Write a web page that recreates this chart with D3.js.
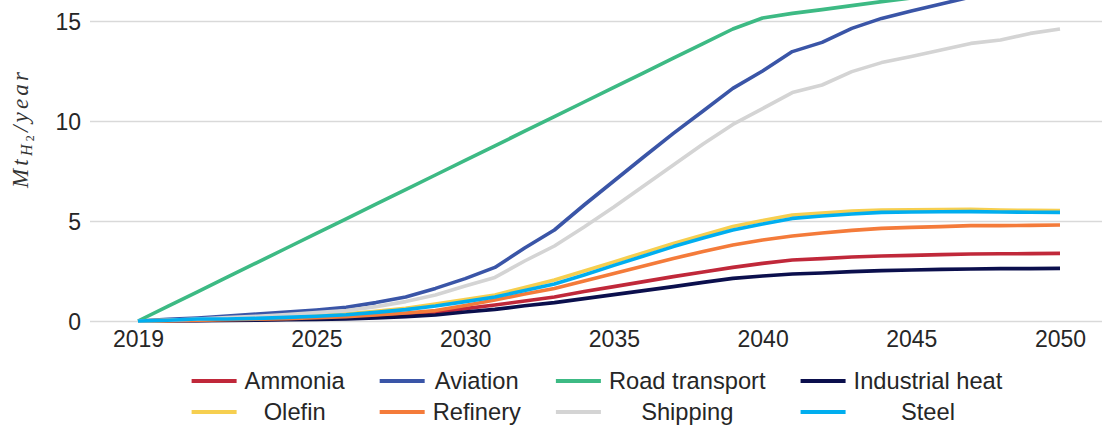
<!DOCTYPE html>
<html><head><meta charset="utf-8">
<script src="https://cdn.jsdelivr.net/npm/d3@7"></script>
<style>
html,body{margin:0;padding:0;background:#fff;overflow:hidden;}
svg{display:block;}
</style></head>
<body>
<svg id="chart" width="1102" height="428"></svg>
<script>
const years = [2019,2020,2021,2022,2023,2024,2025,2026,2027,2028,2029,2030,2031,2032,2033,2034,2035,2036,2037,2038,2039,2040,2041,2042,2043,2044,2045,2046,2047,2048,2049,2050];
const xTicks = [2019,2025,2030,2035,2040,2045,2050];
const yTicks = [0,5,10,15];

const ammonia = [0,0.01,0.03,0.05,0.07,0.09,0.12,0.16,0.23,0.32,0.43,0.62,0.8,1.0,1.2,1.47,1.72,1.97,2.22,2.45,2.68,2.88,3.05,3.12,3.2,3.25,3.28,3.32,3.35,3.36,3.37,3.38];
const aviation = [0,0.08,0.15,0.25,0.35,0.45,0.55,0.68,0.92,1.2,1.63,2.12,2.68,3.65,4.55,5.8,7.0,8.2,9.38,10.5,11.63,12.5,13.47,13.93,14.63,15.13,15.5,15.85,16.2,16.5,16.8,17.1];
const roadTransport = [0,0.73,1.46,2.19,2.92,3.65,4.38,5.11,5.84,6.57,7.3,8.03,8.76,9.49,10.22,10.95,11.68,12.41,13.14,13.87,14.6,15.15,15.38,15.57,15.77,15.97,16.15,16.3,16.45,16.6,16.72,16.85];
const industrialHeat = [0,0.01,0.02,0.03,0.04,0.06,0.08,0.1,0.15,0.22,0.3,0.45,0.58,0.76,0.92,1.12,1.32,1.52,1.72,1.93,2.13,2.25,2.35,2.4,2.47,2.52,2.55,2.58,2.6,2.62,2.62,2.63];
const olefin = [0,0.03,0.07,0.1,0.14,0.2,0.27,0.36,0.48,0.63,0.85,1.07,1.3,1.68,2.05,2.5,2.95,3.42,3.88,4.3,4.72,5.02,5.3,5.4,5.5,5.55,5.56,5.57,5.58,5.55,5.53,5.52];
const refinery = [0,0.02,0.04,0.06,0.09,0.12,0.16,0.21,0.3,0.4,0.52,0.78,1.05,1.35,1.63,2.0,2.38,2.75,3.13,3.47,3.8,4.05,4.25,4.4,4.53,4.63,4.68,4.72,4.77,4.77,4.78,4.8];
const shipping = [0,0.04,0.1,0.17,0.24,0.32,0.42,0.52,0.72,0.97,1.3,1.75,2.18,3.0,3.75,4.7,5.7,6.75,7.8,8.85,9.83,10.62,11.42,11.8,12.47,12.92,13.22,13.55,13.88,14.05,14.38,14.6];
const steel = [0,0.04,0.1,0.1,0.13,0.18,0.24,0.31,0.43,0.57,0.75,0.97,1.2,1.52,1.85,2.3,2.78,3.25,3.72,4.15,4.55,4.85,5.13,5.25,5.35,5.43,5.45,5.46,5.47,5.45,5.44,5.43];

const seriesNames = ["Ammonia","Aviation","Road transport","Industrial heat","Olefin","Refinery","Shipping","Steel"];
const seriesValues = [ammonia,aviation,roadTransport,industrialHeat,olefin,refinery,shipping,steel];
const seriesColors = ["#c0283a","#3a55a7","#3dba84","#0b0f4d","#f6cf50","#f47b3a","#d4d4d4","#00aeef"];

const svg = d3.select("#chart");
const font = "'Liberation Sans', Arial, Helvetica, sans-serif";
const x = d3.scaleLinear().domain([2019,2050]).range([138,1060]);
const y = d3.scaleLinear().domain([0,15]).range([321,21]);

// gridlines
const gridG = svg.append("g").attr("transform","translate(90,0)")
  .call(d3.axisLeft(y).tickValues(yTicks).tickSize(-1012).tickFormat(""));
gridG.select(".domain").remove();
gridG.selectAll(".tick line").attr("stroke","#d9d9d9").attr("stroke-width",1.5);

// y tick labels
const yAx = svg.append("g").attr("transform","translate(81,0)")
  .call(d3.axisLeft(y).tickValues(yTicks).tickSize(0).tickPadding(0));
yAx.select(".domain").remove();
yAx.selectAll("text").attr("font-family",font).attr("font-size",23).attr("fill","#262626").attr("dy","0.36em");

// x tick labels
const xAx = svg.append("g").attr("transform","translate(0,321)")
  .call(d3.axisBottom(x).tickValues(xTicks).tickSize(0).tickPadding(10).tickFormat(d3.format("d")));
xAx.select(".domain").remove();
xAx.selectAll("text").attr("font-family",font).attr("font-size",23).attr("fill","#262626");

// lines
const line = d3.line().x((d,i)=>x(years[i])).y(d=>y(d));
svg.append("g").selectAll("path").data(seriesValues).join("path")
  .attr("d",line).attr("fill","none")
  .attr("stroke",(d,i)=>seriesColors[i]).attr("stroke-width",3.6)
  .attr("stroke-linejoin","round");

// y axis title
const yt = svg.append("text").attr("transform","translate(28,130) rotate(-90)")
  .attr("text-anchor","middle").attr("font-family","'Liberation Serif','Times New Roman',serif")
  .attr("font-style","italic").attr("font-size",23).attr("fill","#333")
  .attr("textLength",116).attr("lengthAdjust","spacing");
yt.append("tspan").text("Mt");
yt.append("tspan").attr("font-size",16).attr("dy",4).text("H");
yt.append("tspan").attr("font-size",12).attr("font-style","normal").attr("dy",2).text("2");
yt.append("tspan").attr("dy",-6).text("/year");

// legend: 2 rows x 4 columns
const nCols = 4;
const legendFont = 23.7;
const measure = svg.append("text").attr("font-family",font).attr("font-size",legendFont).attr("visibility","hidden");
const widths = seriesNames.map(n=>{measure.text(n);return measure.node().getComputedTextLength();});
measure.remove();
const colW = d3.range(nCols).map(c=>Math.max(widths[c],widths[c+nCols]));
const sw = 45, gap = 8, colGap = 35;
const total = d3.sum(colW) + nCols*(sw+gap) + (nCols-1)*colGap;
let cx = 597 - total/2;
const colX = [];
for(let c=0;c<nCols;c++){colX.push(cx);cx += sw+gap+colW[c]+colGap;}
const rowY = [381,412];
const leg = svg.append("g");
seriesNames.forEach((n,i)=>{
  const c = i%nCols, r = Math.floor(i/nCols);
  const g = leg.append("g").attr("transform",`translate(${colX[c]},${rowY[r]})`);
  g.append("line").attr("x1",0).attr("x2",sw).attr("y1",0).attr("y2",0)
    .attr("stroke",seriesColors[i]).attr("stroke-width",4);
  g.append("text").attr("x",sw+gap+colW[c]/2).attr("y",0).attr("dy","0.35em")
    .attr("text-anchor","middle").attr("font-family",font).attr("font-size",legendFont)
    .attr("fill","#262626").text(n);
});
</script>
</body></html>
